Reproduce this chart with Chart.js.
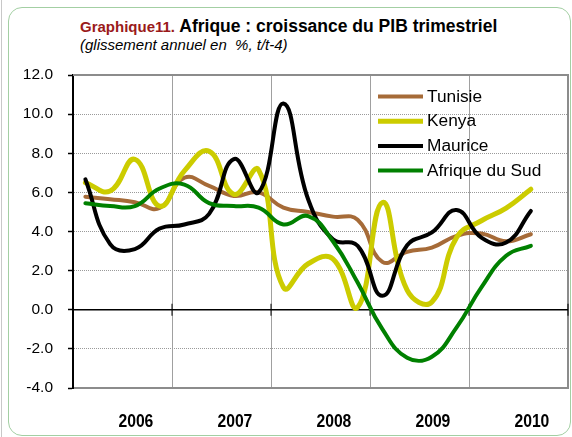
<!DOCTYPE html>
<html>
<head>
<meta charset="utf-8">
<script src="https://cdn.jsdelivr.net/npm/chart.js@4/dist/chart.umd.min.js"></script>
<style>
html,body{margin:0;padding:0;background:#fff;}
#wrap{position:relative;width:572px;height:437px;overflow:hidden;font-family:"Liberation Sans",Arial,sans-serif;}
#frame{position:absolute;left:8px;top:7px;width:563px;height:429px;border:1px solid #a3cfa3;border-radius:14px;box-sizing:border-box;}
#edge{position:absolute;left:1px;top:0;width:1px;height:437px;background:#c8c8c8;}
#title{position:absolute;left:80px;top:16.9px;white-space:nowrap;font-weight:bold;font-size:17.5px;line-height:18px;color:#000;}
#title .num{color:#9a1a1a;font-size:15px;line-height:18px;}
#sub{position:absolute;left:80px;top:37.3px;font-style:italic;font-size:15px;line-height:15px;white-space:nowrap;color:#000;}
canvas{position:absolute;left:0;top:0;}
</style>
</head>
<body>
<div id="wrap">
  <div id="edge"></div>
  <div id="frame"></div>
  <div id="title"><span class="num">Graphique11.</span> Afrique : croissance du PIB trimestriel</div>
  <div id="sub">(glissement annuel en &nbsp;%, t/t-4)</div>
  <canvas id="c" width="572" height="437"></canvas>
</div>
<script>
// Quarterly categories (2006 T1 ... 2010 T4)
const quarters = [
  '2006T1','2006T2','2006T3','2006T4',
  '2007T1','2007T2','2007T3','2007T4',
  '2008T1','2008T2','2008T3','2008T4',
  '2009T1','2009T2','2009T3','2009T4',
  '2010T1','2010T2','2010T3','2010T4'
];
const years = ['2006','2007','2008','2009','2010'];
const yTicks = [-4, -2, 0, 2, 4, 6, 8, 10, 12];

const seriesNames = ['Tunisie', 'Kenya', 'Maurice', 'Afrique du Sud'];
const tunisie = [5.78, 5.65, 5.5, 5.2, 6.75, 6.33, 5.82, 6.0, 5.22, 5.0, 4.76, 4.6, 2.45, 2.96, 3.18, 3.78, 3.9, 3.5, 3.86];
const kenya   = [6.5, 6.07, 7.69, 5.3, 7.1, 8.1, 5.9, 7.15, 1.15, 2.35, 2.6, 0.12, 5.48, 1.0, 0.4, 3.7, 4.55, 5.2, 6.16];
const maurice = [6.67, 3.35, 3.1, 4.15, 4.36, 4.9, 7.7, 6.0, 10.54, 5.65, 3.6, 3.27, 0.71, 3.3, 3.95, 5.1, 3.69, 3.44, 5.05];
const afriqueSud = [5.44, 5.3, 5.3, 6.2, 6.4, 5.45, 5.3, 5.22, 4.36, 4.79, 3.5, 1.39, -0.99, -2.45, -2.4, -0.9, 1.14, 2.76, 3.27];

const colors = ['#a66b38', '#cccc00', '#000000', '#008000'];
const widths = [4, 5, 4, 4];

Chart.defaults.font.family = '"Liberation Sans", Arial, sans-serif';
Chart.defaults.color = '#000';

const framePlugin = {
  id: 'framePlugin',
  beforeDatasetsDraw(chart) {
    const {ctx, chartArea: a, scales: {x, y}} = chart;
    ctx.save();
    // top and right frame
    ctx.strokeStyle = '#8c8c8c';
    ctx.lineWidth = 2;
    ctx.beginPath();
    ctx.moveTo(a.left, a.top); ctx.lineTo(a.right, a.top);
    ctx.lineTo(a.right, a.bottom);
    ctx.stroke();
    // zero line
    const y0 = y.getPixelForValue(0);
    ctx.strokeStyle = '#000';
    ctx.lineWidth = 1.5;
    ctx.beginPath();
    ctx.moveTo(a.left, y0); ctx.lineTo(a.right, y0);
    ctx.stroke();
    // tick marks at year boundaries on the zero line
    ctx.lineWidth = 1;
    for (let k = 1; k <= years.length; k++) {
      const i = 4 * k;
      const xb = i < quarters.length
        ? (x.getPixelForValue(i - 1) + x.getPixelForValue(i)) / 2
        : a.right;
      ctx.beginPath();
      ctx.moveTo(xb, y0 - 6); ctx.lineTo(xb, y0 + 6);
      ctx.stroke();
    }
    ctx.restore();
  },
  afterDatasetsDraw(chart) {
    const {ctx, chartArea: a, scales: {x}} = chart;
    ctx.save();
    // legend inside the plot area
    ctx.font = '17.3px "Liberation Sans", Arial, sans-serif';
    ctx.textBaseline = 'middle';
    ctx.textAlign = 'left';
    chart.data.datasets.forEach((ds, i) => {
      const yy = a.top + 21.5 + i * 24.7;
      ctx.strokeStyle = ds.borderColor;
      ctx.lineWidth = ds.borderWidth;
      ctx.beginPath();
      ctx.moveTo(a.right - 190, yy);
      ctx.lineTo(a.right - 145, yy);
      ctx.stroke();
      ctx.fillStyle = '#000';
      ctx.fillText(ds.label, a.right - 141, yy + 0.5);
    });
    ctx.restore();
    // year labels (condensed bold), centred on the third quarter of each year
    ctx.save();
    ctx.font = 'bold 18.5px "Liberation Sans", Arial, sans-serif';
    ctx.fillStyle = '#000';
    ctx.textAlign = 'center';
    ctx.textBaseline = 'alphabetic';
    years.forEach((yr, k) => {
      const px = x.getPixelForValue(4 * k + 2);
      ctx.save();
      ctx.translate(px + 1, a.bottom + 38.5);
      ctx.scale(0.85, 1);
      ctx.fillText(yr, 0, 0);
      ctx.restore();
    });
    ctx.restore();
  }
};

const dataSeries = [tunisie, kenya, maurice, afriqueSud];

new Chart(document.getElementById('c'), {
  type: 'line',
  data: {
    labels: quarters,
    datasets: dataSeries.map((d, i) => ({
      label: seriesNames[i],
      data: d,
      borderColor: colors[i],
      backgroundColor: colors[i],
      borderWidth: widths[i],
      pointRadius: 0,
      tension: 0.45,
      fill: false,
      borderJoinStyle: 'round',
      borderCapStyle: 'round',
      order: 4 - i
    }))
  },
  options: {
    responsive: false,
    devicePixelRatio: 1,
    animation: false,
    layout: { padding: { left: 23, top: 75, right: 4, bottom: 0 } },
    plugins: {
      legend: { display: false },
      tooltip: { enabled: false },
      title: { display: false }
    },
    scales: {
      x: {
        type: 'category',
        offset: true,
        grid: {
          offset: true,
          drawTicks: false,
          lineWidth: 1,
          color: (c) => (c.index !== undefined && c.index > 0 && c.index % 4 === 0) ? '#a0a0a0' : 'rgba(0,0,0,0)'
        },
        border: { display: true, color: '#8c8c8c', width: 2 },
        ticks: { display: false, autoSkip: false, maxRotation: 0, minRotation: 0 },
        afterFit: (s) => { s.height = 49; }
      },
      y: {
        min: -4,
        max: 12,
        afterBuildTicks: (s) => { s.ticks = yTicks.map(v => ({ value: v })); },
        grid: {
          color: (c) => (c.tick && c.tick.value === 0) ? 'rgba(0,0,0,0)' : '#9a9a9a',
          lineWidth: 1,
          tickColor: '#000',
          tickLength: 5,
          tickWidth: 1.5
        },
        border: { display: true, color: '#000', width: 2, dash: [1, 1] },
        ticks: {
          padding: 15,
          color: '#000',
          font: { size: 15.5 },
          callback: (v) => Number(v).toFixed(1)
        },
        afterFit: (s) => { s.width = 50; }
      }
    }
  },
  plugins: [framePlugin]
});
</script>
</body>
</html>
